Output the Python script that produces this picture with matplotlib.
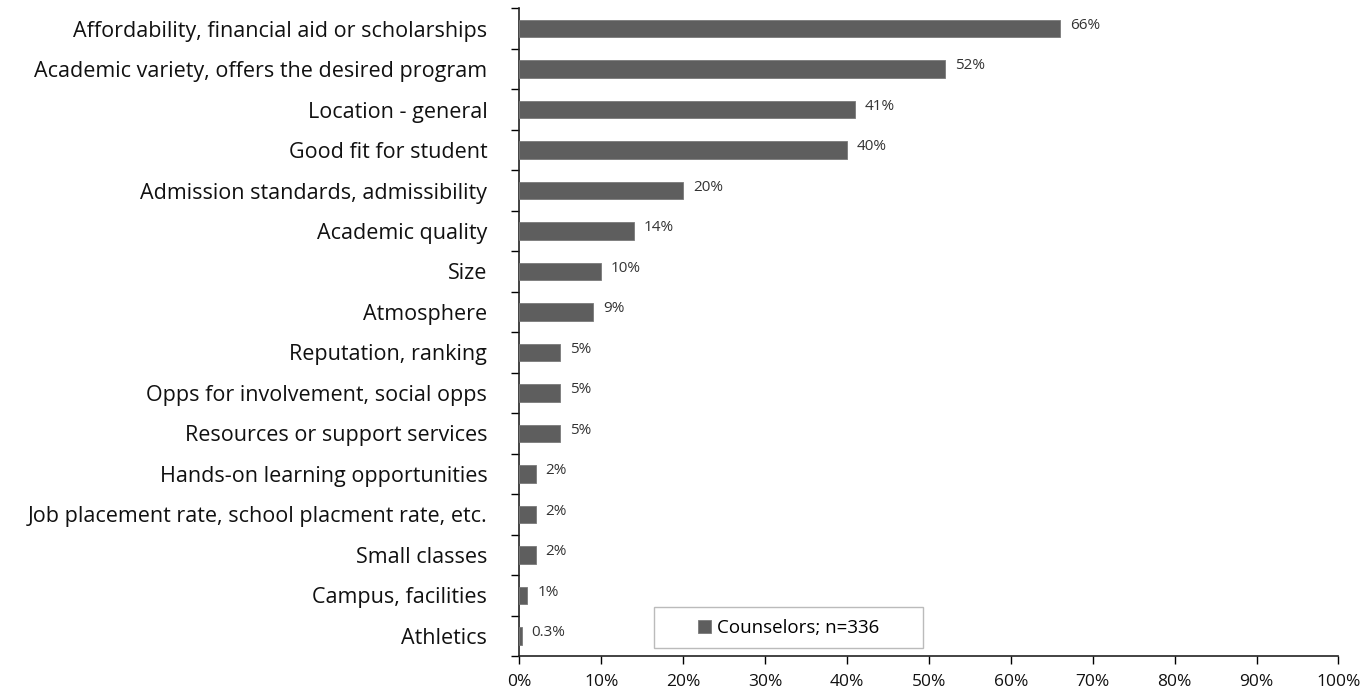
import matplotlib.pyplot as plt
import matplotlib.ticker as ticker
from matplotlib.patches import Rectangle
import numpy as np

plt.rcParams['font.family'] = ['Open Sans', 'DejaVu Sans']

categories = [
    'Affordability, financial aid or scholarships',
    'Academic variety, offers the desired program',
    'Location - general',
    'Good fit for student',
    'Admission standards, admissibility',
    'Academic quality',
    'Size',
    'Atmosphere',
    'Reputation, ranking',
    'Opps for involvement, social opps',
    'Resources or support services',
    'Hands-on learning opportunities',
    'Job placement rate, school placment rate, etc.',
    'Small classes',
    'Campus, facilities',
    'Athletics',
]
values = [66, 52, 41, 40, 20, 14, 10, 9, 5, 5, 5, 2, 2, 2, 1, 0.3]
value_labels = ['66%', '52%', '41%', '40%', '20%', '14%', '10%', '9%',
                '5%', '5%', '5%', '2%', '2%', '2%', '1%', '0.3%']
series_name = 'Counselors; n=336'

BAR_COLOR = '#5e5e5e'

fig = plt.figure(figsize=(13.63, 6.9), dpi=100)
ax = fig.add_axes([0.381, 0.049, 0.601, 0.939])

y = np.arange(len(categories))
ax.barh(y, values, height=0.43, color=BAR_COLOR, edgecolor='#7a7a7a',
        linewidth=0.6, label=series_name, zorder=3)

for yi, v, lab in zip(y, values, value_labels):
    ax.text(v + 1.2, yi - 0.08, lab, va='center', ha='left', fontsize=11,
            color='#333333')

ax.set_ylim(len(categories) - 0.5, -0.5)
ax.set_xlim(0, 100)
ax.set_yticks(y)
ax.set_yticklabels(categories, fontsize=15.5, color='#111111')
ax.yaxis.set_minor_locator(ticker.FixedLocator(np.arange(-0.5, len(categories), 1.0)))
ax.tick_params(axis='y', which='major', length=0, pad=23)
ax.tick_params(axis='y', which='minor', length=6, width=1, direction='out')

ax.xaxis.set_major_locator(ticker.MultipleLocator(10))
ax.xaxis.set_major_formatter(ticker.FuncFormatter(lambda v, _p: f'{int(round(v))}%'))
ax.tick_params(axis='x', labelsize=12.5, length=6, width=1, direction='out', pad=7,
               labelcolor='#111111')

for side in ('top', 'right'):
    ax.spines[side].set_visible(False)
for side in ('left', 'bottom'):
    ax.spines[side].set_linewidth(1.2)
    ax.spines[side].set_color('#222222')

# legend box (Excel style: content centred in a wide frame)
box = Rectangle((0.165, 0.0125), 0.328, 0.063, transform=ax.transAxes,
                facecolor='white', edgecolor='#bbbbbb', linewidth=1.0, zorder=4)
ax.add_patch(box)
leg = ax.legend(loc='center', bbox_to_anchor=(0.165 + 0.328 / 2, 0.0125 + 0.063 / 2),
                fontsize=13.5, frameon=False, handlelength=0.7, handleheight=0.7,
                handletextpad=0.3, borderpad=0.0)
leg.set_zorder(5)

fig.savefig('out.png', dpi=100)
